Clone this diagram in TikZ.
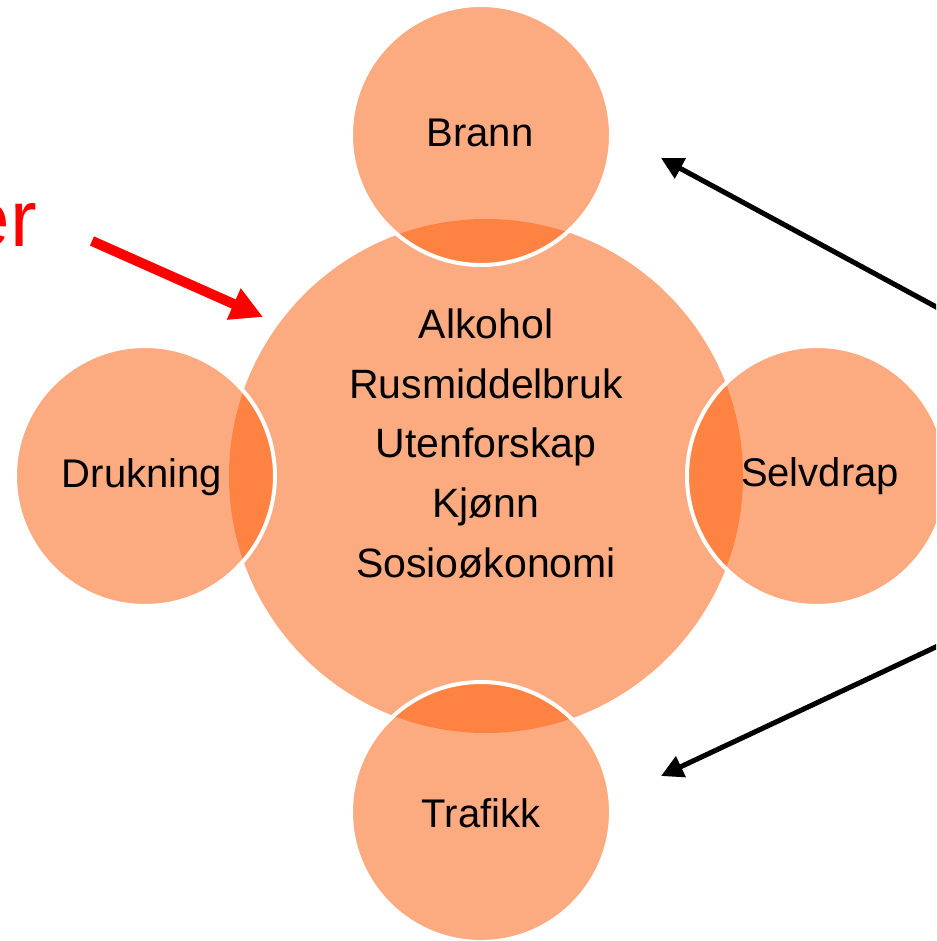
\documentclass[tikz,border=0pt]{standalone}
\usepackage{fontspec}
\setmainfont{Liberation Sans}
\usetikzlibrary{arrows.meta}
\definecolor{lightor}{RGB}{252,170,128}
\definecolor{darkor}{RGB}{254,130,66}
\tikzset{
  corecirc/.style={circle, fill=lightor, draw=none, inner sep=0pt, minimum size=514pt},
  outercirc/.style={circle, fill=lightor, draw=none, inner sep=0pt, minimum size=260pt},
  rim/.style={draw=white, line width=4pt},
  lbl/.style={font=\fontsize{40}{48}\selectfont, inner sep=0pt, anchor=base, text=black},
  corelbl/.style={font=\fontsize{41}{49}\selectfont, inner sep=0pt, anchor=base, text=black},
  blackarrow/.style={line width=5pt, black, -{Triangle[length=22pt,width=22pt]}},
  redarrow/.style={line width=10pt, red, -{Triangle[length=32pt,width=32pt]}},
  shadowline/.style={draw=black, opacity=0.18},
}
\begin{document}
\begin{tikzpicture}[x=1pt,y=-1pt]
\useasboundingbox (0,0) rectangle (936,941);
\clip (0,0) rectangle (936,941);
\fill[white] (0,0) rectangle (936,941);

% circles
\node[corecirc] (core) at (486,476) {};
\node[outercirc] (brann) at (481,135) {};
\node[outercirc] (drukning) at (145,476) {};
\node[outercirc] (selvdrap) at (817,476) {};
\node[outercirc] (trafikk) at (481,812) {};

% overlaps
\foreach \n in {brann,drukning,selvdrap,trafikk}{
  \begin{scope}
    \clip (\n.center) circle[radius=130pt];
    \fill[darkor] (core.center) circle[radius=257pt];
  \end{scope}
  \draw[rim] (\n.center) circle[radius=130pt];
}

% labels
\node[lbl] (tbrann) at (480,147) {Brann};
\node[lbl] (tdrukning) at (142,487) {Drukning};
\node[lbl] (tselvdrap) at (820,486) {Selvdrap};
\node[lbl] (ttrafikk) at (481,827) {Trafikk};

\node[corelbl] (t1) at (486,338) {Alkohol};
\node[corelbl] (t2) at (486,398) {Rusmiddelbruk};
\node[corelbl] (t3) at (486,457) {Utenforskap};
\node[corelbl] (t4) at (486,517) {Kjønn};
\node[corelbl] (t5) at (486,577) {Sosioøkonomi};

% red text
\node[font=\fontsize{80}{96}\selectfont, text=red, anchor=base east, inner sep=0pt] (er) at (37,247) {er};

% arrow coordinates
\coordinate (rs) at (92,241);
\coordinate (re) at (263,317);
\coordinate (b1s) at (940,309);
\coordinate (b1e) at (661,158);
\coordinate (b2s) at (940,645);
\coordinate (b2e) at (661,776);

% shadows
\begin{scope}[shift={(2,4)}]
  \draw[redarrow, shadowline] (rs) -- (re);
  \draw[blackarrow, shadowline] (b1s) -- (b1e);
  \draw[blackarrow, shadowline] (b2s) -- (b2e);
\end{scope}

% arrows
\draw[redarrow] (rs) -- (re);
\draw[blackarrow] (b1s) -- (b1e);
\draw[blackarrow] (b2s) -- (b2e);
\end{tikzpicture}
\end{document}
